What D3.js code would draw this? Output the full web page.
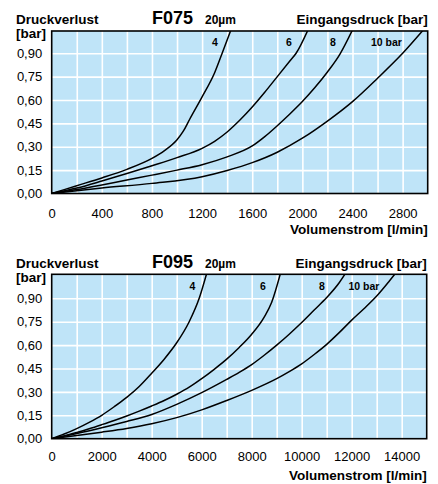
<!DOCTYPE html>
<html>
<head>
<meta charset="utf-8">
<script src="https://cdn.jsdelivr.net/npm/d3@7"></script>
<style>
  body { margin: 0; background: #fff; }
  svg { display: block; font-family: "Liberation Sans", Arial, Helvetica, sans-serif; }
</style>
</head>
<body>
<script>
'use strict';

// Druckverlust (bar) ticks, shared by both charts
const yTicks = [0, 0.15, 0.30, 0.45, 0.60, 0.75, 0.90];

// x tick labels
const f075Ticks = [0, 400, 800, 1200, 1600, 2000, 2400, 2800];
const f095Ticks = [0, 2000, 4000, 6000, 8000, 10000, 12000, 14000];

const pressureLabels = ["4", "6", "8", "10 bar"];

// F075 curves: [Volumenstrom l/min, Druckverlust bar]
const f075_4 = [[0, 0], [200, 0.05], [400, 0.10], [600, 0.155], [800, 0.225], [900, 0.275],
  [1000, 0.345], [1050, 0.40], [1100, 0.475], [1200, 0.62], [1300, 0.775], [1360, 0.90], [1430, 1.05]];
const f075_6 = [[0, 0], [200, 0.035], [400, 0.08], [600, 0.128], [800, 0.178], [1000, 0.23],
  [1200, 0.29], [1300, 0.335], [1400, 0.395], [1500, 0.47], [1600, 0.555], [1700, 0.65], [1800, 0.75],
  [1900, 0.85], [1950, 0.90], [2045, 1.05]];
const f075_8 = [[0, 0], [200, 0.025], [400, 0.055], [600, 0.087], [800, 0.118], [1000, 0.15],
  [1200, 0.185], [1400, 0.235], [1600, 0.305], [1700, 0.365], [1800, 0.435], [1900, 0.51], [2000, 0.59],
  [2100, 0.68], [2200, 0.78], [2300, 0.895], [2400, 1.05]];
const f075_10 = [[0, 0], [400, 0.035], [800, 0.065], [1200, 0.108], [1400, 0.148], [1600, 0.198],
  [1800, 0.265], [2000, 0.355], [2200, 0.465], [2400, 0.59], [2600, 0.74], [2800, 0.90], [2965, 1.05]];

// F095 curves
const f095_4 = [[0, 0], [500, 0.03], [1000, 0.065], [1500, 0.105], [2000, 0.15], [2500, 0.205],
  [3000, 0.265], [3500, 0.335], [4000, 0.42], [4500, 0.51], [5000, 0.615], [5500, 0.75], [5900, 0.90],
  [6200, 1.06]];
const f095_6 = [[0, 0], [500, 0.018], [1000, 0.04], [1500, 0.064], [2000, 0.09], [2500, 0.117],
  [3000, 0.146], [3500, 0.177], [4000, 0.21], [4500, 0.245], [5000, 0.285], [5500, 0.33], [6000, 0.385],
  [6500, 0.445], [7000, 0.51], [7500, 0.585], [8000, 0.67], [8500, 0.78], [8800, 0.875], [9150, 1.06]];
const f095_8 = [[0, 0], [1000, 0.033], [2000, 0.07], [3000, 0.11], [4000, 0.155], [5000, 0.22],
  [6000, 0.295], [7000, 0.38], [7500, 0.425], [8000, 0.475], [8500, 0.535], [9000, 0.60], [9500, 0.67],
  [10000, 0.745], [10500, 0.825], [11000, 0.905], [11500, 1.0], [11750, 1.06]];
const f095_10 = [[0, 0], [1000, 0.02], [2000, 0.042], [3000, 0.066], [4000, 0.096], [5000, 0.135],
  [6000, 0.185], [7000, 0.245], [8000, 0.31], [9000, 0.385], [9500, 0.43], [10000, 0.48], [10500, 0.54],
  [11000, 0.605], [11500, 0.68], [12000, 0.76], [12500, 0.835], [13000, 0.915], [13500, 1.01], [13750, 1.06]];

(function () {
  let svg = "";

  window.onload = function () {
    svg = d3.select('body')
      .append('svg')
      .attr('width', 438)
      .attr('height', 484);

    drawChart({
      id: "a", title: "F075",
      left: 51.7, right: 427.7, top: 31, bottom: 193.5,
      xMax: 3000, yMax: 1.043, gridStep: 200,
      ticks: f075Ticks,
      curves: [f075_4, f075_6, f075_8, f075_10],
      labelX: [215, 289, 333, 371], labelY: 46,
      headY: 23.5, tickY: 217.5, axisTitleY: 234
    });

    drawChart({
      id: "b", title: "F095",
      left: 51.7, right: 426.7, top: 274.3, bottom: 438.7,
      xMax: 15000, yMax: 1.054, gridStep: 1000,
      ticks: f095Ticks,
      curves: [f095_4, f095_6, f095_8, f095_10],
      labelX: [192.5, 263, 322, 348.5], labelY: 290,
      headY: 268, tickY: 461.5, axisTitleY: 479.5
    });
  }

  function drawChart(c) {
    let xScale = d3.scaleLinear().domain([0, c.xMax]).range([c.left, c.right]);
    let yScale = d3.scaleLinear().domain([0, c.yMax]).range([c.bottom, c.top]);
    let w = c.right - c.left;
    let h = c.bottom - c.top;

    // plot background
    svg.append('rect')
      .attr('x', c.left).attr('y', c.top)
      .attr('width', w).attr('height', h)
      .attr('fill', '#bfe4f8');

    // white grid
    let xGrid = svg.append('g')
      .attr('transform', 'translate(0,' + c.bottom + ')')
      .call(d3.axisBottom(xScale)
        .tickValues(d3.range(c.gridStep, c.xMax, c.gridStep))
        .tickSize(-h).tickFormat(""));
    let yGrid = svg.append('g')
      .attr('transform', 'translate(' + c.left + ',0)')
      .call(d3.axisLeft(yScale)
        .tickValues(yTicks.filter((d) => d > 0))
        .tickSize(-w).tickFormat(""));
    [xGrid, yGrid].forEach((g) => {
      g.select('.domain').remove();
      g.selectAll('line').attr('stroke', '#fff').attr('stroke-width', 1.6);
    });

    // curves
    svg.append('clipPath').attr('id', 'clip' + c.id)
      .append('rect')
      .attr('x', c.left).attr('y', c.top)
      .attr('width', w).attr('height', h);

    let line = d3.line()
      .x((d) => xScale(d[0]))
      .y((d) => yScale(d[1]))
      .curve(d3.curveMonotoneX);

    svg.append('g')
      .attr('clip-path', 'url(#clip' + c.id + ')')
      .selectAll('path')
      .data(c.curves)
      .enter()
      .append('path')
      .attr('d', line)
      .attr('fill', 'none')
      .attr('stroke', '#000')
      .attr('stroke-width', 1.5)
      .attr('stroke-linejoin', 'round');

    // frame
    svg.append('rect')
      .attr('x', c.left).attr('y', c.top)
      .attr('width', w).attr('height', h)
      .attr('fill', 'none')
      .attr('stroke', '#000')
      .attr('stroke-width', 1.6);

    // tick labels
    let xAxis = svg.append('g')
      .attr('transform', 'translate(0,' + c.bottom + ')')
      .call(d3.axisBottom(xScale).tickValues(c.ticks).tickSize(0).tickFormat(d3.format("d")));
    xAxis.select('.domain').remove();
    xAxis.selectAll('text')
      .attr('y', c.tickY - c.bottom).attr('dy', 0)
      .style('font-size', '13px').style('font-family', null).attr('fill', '#000');

    let yAxis = svg.append('g')
      .attr('transform', 'translate(' + c.left + ',0)')
      .call(d3.axisLeft(yScale).tickValues(yTicks).tickSize(0).tickPadding(9.5)
        .tickFormat((d) => d3.format(".2f")(d).replace(".", ",")));
    yAxis.select('.domain').remove();
    yAxis.selectAll('text')
      .style('font-size', '13px').style('font-family', null).attr('fill', '#000');

    // curve labels
    svg.selectAll('.lab' + c.id)
      .data(pressureLabels)
      .enter()
      .append('text')
      .attr('x', (d, i) => c.labelX[i])
      .attr('y', c.labelY)
      .attr('text-anchor', (d, i) => i == 3 ? 'start' : 'middle')
      .style('font-size', '10.5px')
      .style('font-weight', 'bold')
      .text((d) => d);

    // headers
    svg.append('text')
      .attr('x', 16).attr('y', c.headY)
      .style('font-size', '13.5px').style('font-weight', 'bold')
      .text('Druckverlust');
    svg.append('text')
      .attr('x', 16).attr('y', c.headY + 14)
      .style('font-size', '13.5px').style('font-weight', 'bold')
      .text('[bar]');
    svg.append('text')
      .attr('x', 152).attr('y', c.headY)
      .style('font-size', '18px').style('font-weight', 'bold')
      .text(c.title);
    svg.append('text')
      .attr('x', 205).attr('y', c.headY)
      .style('font-size', '12px').style('font-weight', 'bold')
      .text('20µm');
    svg.append('text')
      .attr('x', c.right).attr('y', c.headY)
      .attr('text-anchor', 'end')
      .style('font-size', '13.5px').style('font-weight', 'bold')
      .text('Eingangsdruck [bar]');
    svg.append('text')
      .attr('x', c.right).attr('y', c.axisTitleY)
      .attr('text-anchor', 'end')
      .style('font-size', '13.5px').style('font-weight', 'bold')
      .text('Volumenstrom [l/min]');
  }
})();
</script>
</body>
</html>
